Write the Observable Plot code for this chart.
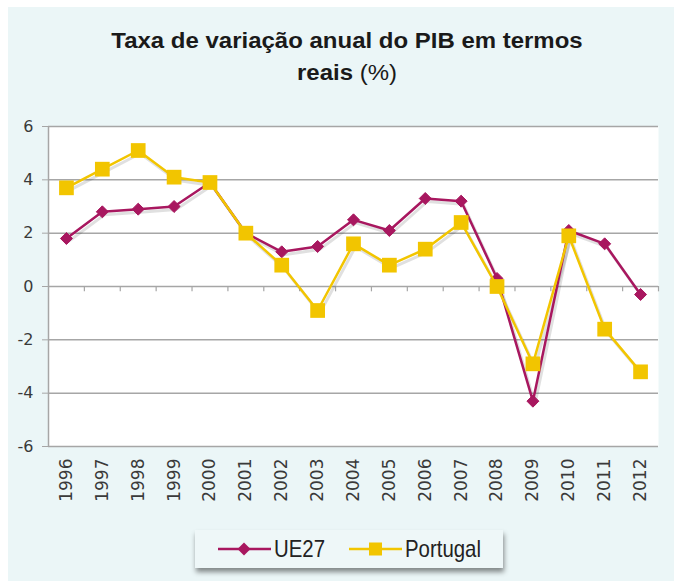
<!DOCTYPE html>
<html>
<head>
<meta charset="utf-8">
<script src="https://cdn.jsdelivr.net/npm/d3@7"></script>
<script src="https://cdn.jsdelivr.net/npm/@observablehq/plot@0.6"></script>
<style>
  html, body { margin: 0; padding: 0; background: #ffffff; }
  #wrap { position: relative; width: 674px; height: 581px; overflow: hidden; background: #ffffff; font-family: "Liberation Sans", Arial, sans-serif; }
  #panel { position: absolute; left: 8px; top: 7px; width: 666px; height: 574px; background: #ebf6f7; }
  #title { position: absolute; left: 47px; top: 25px; width: 600px; text-align: center; font-size: 22px; line-height: 32px; color: #1a1a1a; transform: scaleX(1.09); }
  #title b { font-weight: bold; }
  #chart { position: absolute; left: 0; top: 110px; }
  #legend { position: absolute; left: 195px; top: 530px; width: 308px; height: 38px; background: #eef7f8; box-shadow: 1px 4px 5px rgba(0,0,0,0.45); }
  .item { position: absolute; top: 0; height: 38px; display: flex; align-items: center; }
  .item span { display: inline-block; font-size: 24px; color: #222; transform: scaleX(0.85); transform-origin: left center; white-space: nowrap; }
</style>
</head>
<body>
<div id="wrap">
  <div id="panel"></div>
  <div id="title"><b>Taxa de variação anual do PIB em termos</b><br><b>reais</b> (%)</div>
  <div id="chart"></div>
  <div id="legend"></div>
</div>
<script>
const years = [1996,1997,1998,1999,2000,2001,2002,2003,2004,2005,2006,2007,2008,2009,2010,2011,2012];
const ue27 = [1.8,2.8,2.9,3.0,3.9,2.0,1.3,1.5,2.5,2.1,3.3,3.2,0.3,-4.3,2.1,1.6,-0.3];
const portugal = [3.7,4.4,5.1,4.1,3.9,2.0,0.8,-0.9,1.6,0.8,1.4,2.4,0.0,-2.9,1.9,-1.6,-3.2];
const yTicks = [-6,-4,-2,0,2,4,6];
const seriesNames = ["UE27", "Portugal"];
const seriesColors = ["#a8175f", "#f2c500"];

const ueData = years.map((y, i) => ({year: y, value: ue27[i]}));
const ptData = years.map((y, i) => ({year: y, value: portugal[i]}));
const boundaries = years.map(y => y + 0.5);

const shadow = {dx: 2, dy: 3, stroke: "rgba(0,0,0,0.12)"};

const chart = Plot.plot({
  width: 674,
  height: 410,
  marginLeft: 48,
  marginRight: 16,
  marginTop: 16,
  marginBottom: 74,
  style: {background: "transparent", fontFamily: "DejaVu Sans, sans-serif", color: "#333"},
  x: {type: "linear", domain: [1995.5, 2012.5], label: null},
  y: {domain: [-6, 6], label: null},
  marks: [
    Plot.frame({fill: "white", stroke: null}),
    Plot.ruleY(yTicks, {stroke: "#a6a6a6", strokeWidth: 1.5}),
    Plot.ruleX([1995.5], {stroke: "#a6a6a6", strokeWidth: 1.5}),
    Plot.axisY({ticks: yTicks, tickSize: 6, tickPadding: 9, stroke: "#a6a6a6", fontSize: 16, fill: "#3a3a3a", tickFormat: d => d < 0 ? "-" + Math.abs(d) : String(d)}),
    Plot.axisX({ticks: years, tickSize: 0, tickPadding: 12, tickRotate: -90, tickFormat: "d", fontSize: 17, fill: "#3a3a3a"}),
    Plot.ruleX(boundaries, {x: d => d, y1: 0, y2: -0.2, stroke: "#a6a6a6", strokeWidth: 1.2}),
    // soft shadows
    Plot.line(ueData, {x: "year", y: "value", strokeWidth: 3, ...shadow}),
    Plot.line(ptData, {x: "year", y: "value", strokeWidth: 3, ...shadow}),
    Plot.line(ueData, {x: "year", y: "value", stroke: seriesColors[0], strokeWidth: 2.5}),
    Plot.dot(ueData, {x: "year", y: "value", symbol: "diamond2", r: 5.4, fill: seriesColors[0], stroke: seriesColors[0], strokeWidth: 1}),
    Plot.line(ptData, {x: "year", y: "value", stroke: seriesColors[1], strokeWidth: 2.5}),
    Plot.dot(ptData, {x: "year", y: "value", symbol: "square", r: 8.3, fill: seriesColors[1], stroke: null})
  ]
});
document.getElementById("chart").appendChild(chart);

// legend
const legend = d3.select("#legend");
const itemLeft = [23, 154];
seriesNames.forEach((name, i) => {
  const item = legend.append("div").attr("class", "item").style("left", itemLeft[i] + "px");
  const sw = item.append("svg").attr("width", 53).attr("height", 16);
  sw.append("line").attr("x1", 0).attr("x2", 53).attr("y1", 8).attr("y2", 8).attr("stroke", seriesColors[i]).attr("stroke-width", 2.5);
  if (i === 0) {
    sw.append("path").attr("d", "M26,1.5 L32.5,8 L26,14.5 L19.5,8 Z").attr("fill", seriesColors[i]);
  } else {
    sw.append("rect").attr("x", 20).attr("y", 1.5).attr("width", 13).attr("height", 13).attr("fill", seriesColors[i]);
  }
  item.append("span").text(name).style("margin-left", "3px");
});
</script>
</body>
</html>
